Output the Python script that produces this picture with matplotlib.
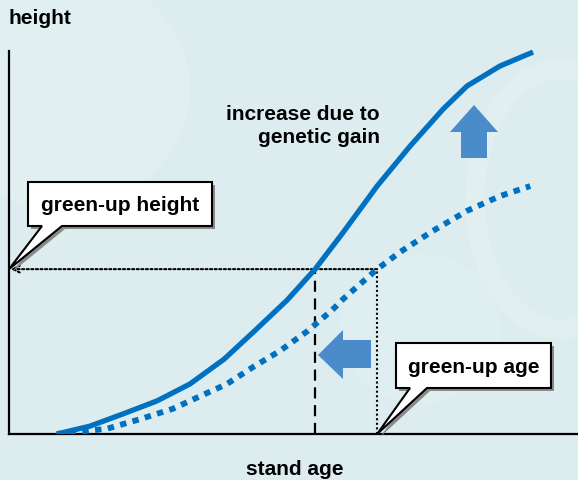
import numpy as np
import matplotlib
matplotlib.use("Agg")
import matplotlib.pyplot as plt
from matplotlib.patches import Polygon, Ellipse

plt.rcParams['font.family'] = ['Liberation Sans', 'DejaVu Sans']

# stand age (0-100) vs height (0-100)
age_improved = [8.4, 14.2, 20.0, 26.0, 31.8, 37.8, 43.0, 48.9, 53.8, 58.7, 64.7, 70.5, 76.3, 80.5, 86.3, 92.1]
ht_improved = [0.0, 1.8, 4.6, 7.6, 11.5, 17.2, 23.5, 30.8, 37.9, 46.3, 57.0, 66.2, 74.7, 80.0, 84.6, 87.8]

age_base = [8.4, 17.2, 23.0, 28.8, 33.6, 38.3, 42.9, 47.6, 52.4, 56.8, 58.7, 64.7, 68.7, 74.5, 80.5, 86.3, 91.6]
ht_base = [0.0, 1.2, 3.4, 5.8, 8.7, 11.5, 15.4, 19.1, 23.6, 28.5, 31.0, 37.9, 41.8, 46.7, 51.3, 54.7, 57.0]

greenup_height = 37.9
greenup_age_improved = 53.8
greenup_age_base = 64.7

W, H = 578, 481
fig = plt.figure(figsize=(W / 100, H / 100), dpi=100)
bg = '#ddedef'
fig.patch.set_facecolor(bg)

# faint watermark in the background
wm = fig.add_axes([0, 0, 1, 1])
wm.set_xlim(0, W)
wm.set_ylim(H, 0)
wm.axis('off')
wm.add_patch(Ellipse((60, 90), 260, 240, fc='white', ec='none', alpha=0.13))
wm.add_patch(Ellipse((560, 200), 170, 260, fc='none', ec='white', lw=14, alpha=0.12))
wm.add_patch(Ellipse((420, 330), 160, 150, fc='white', ec='none', alpha=0.08))

ax = fig.add_axes([9 / W, (H - 435) / H, (W - 9) / W, 435 / H])
ax.set_facecolor('none')
ax.set_xlim(0, 100)
ax.set_ylim(0, 100)
ax.set_xticks([])
ax.set_yticks([])
for s in ['top', 'right']:
    ax.spines[s].set_visible(False)
ax.spines['left'].set_bounds(0, 88)
ax.spines['left'].set_linewidth(1.6)
ax.spines['bottom'].set_linewidth(1.6)

blue = '#0070c0'
ax.plot(age_improved, ht_improved, color=blue, lw=3.8, solid_capstyle='butt',
        solid_joinstyle='round', zorder=4)
ax.plot(age_base, ht_base, color=blue, lw=4.2, ls=(0, (1.1, 1.1)), zorder=4)

# guide lines
ax.annotate('', xy=(0.3, greenup_height), xytext=(greenup_age_base, greenup_height),
            arrowprops=dict(arrowstyle='->', ls=(0, (1, 1.2)), lw=1.5, color='black',
                            shrinkA=0, shrinkB=0, mutation_scale=12), zorder=3)
ax.plot([greenup_age_base, greenup_age_base], [0, greenup_height], color='black',
        lw=1.5, ls=(0, (1, 1.2)), zorder=3)
ax.plot([greenup_age_improved, greenup_age_improved], [0, greenup_height], color='black',
        lw=1.6, ls=(0, (5, 3)), zorder=3)

# overlay in pixel units for annotations
ov = fig.add_axes([0, 0, 1, 1])
ov.set_xlim(0, W)
ov.set_ylim(H, 0)
ov.axis('off')
ov.set_facecolor('none')


def to_px(x, y):
    return ov.transData.inverted().transform(ax.transData.transform((x, y)))


def callout(x0, y0, x1, y1, pl, pr, tip, label):
    pts = [(x0, y0), (x1, y0), (x1, y1), (pr, y1), tuple(tip), (pl, y1), (x0, y1)]
    shadow = [(px + 3, py + 3) for px, py in pts]
    ov.add_patch(Polygon(shadow, closed=True, fc='#8a8a8a', ec='none', zorder=5))
    ov.add_patch(Polygon(pts, closed=True, fc='white', ec='black', lw=1.5, zorder=6))
    ov.text((x0 + x1) / 2, (y0 + y1) / 2 + 1, label, ha='center', va='center',
            fontsize=15, fontweight='bold', zorder=7)


callout(28, 183, 212, 227, 42, 62, to_px(0, greenup_height), 'green-up height')
callout(396, 344, 551, 389, 410, 427, to_px(greenup_age_base, 0), 'green-up age')

arrow_c = '#4a8bca'
up = [(474, 106), (498, 133), (487, 133), (487, 159), (461, 159), (461, 133), (450, 133)]
ov.add_patch(Polygon(up, closed=True, fc=arrow_c, ec='none', zorder=5))
left = [(318, 356), (343, 331), (343, 341), (371, 341), (371, 369), (343, 369), (343, 380)]
ov.add_patch(Polygon(left, closed=True, fc=arrow_c, ec='none', zorder=5))

ov.text(380, 126, 'increase due to\ngenetic gain', ha='right', va='center',
        fontsize=15, fontweight='bold', linespacing=1.25)
ov.text(8, 18, 'height', ha='left', va='center', fontsize=15, fontweight='bold')
ov.text(295, 470, 'stand age', ha='center', va='center', fontsize=15, fontweight='bold')

fig.savefig('out.png', dpi=100, facecolor=bg)
